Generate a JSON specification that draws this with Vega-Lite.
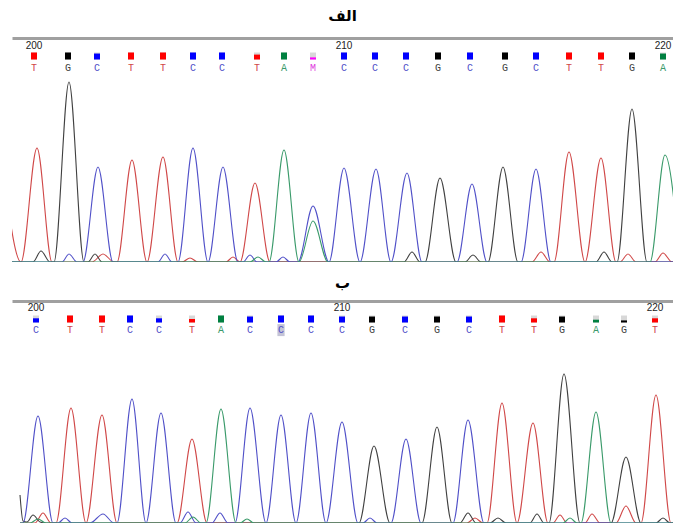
{
  "$schema": "https://vega.github.io/schema/vega-lite/v6.json",
  "padding": {"left": 12, "top": 9, "right": 0, "bottom": 0},
  "background": "white",
  "config": {"view": {"stroke": null}},
  "spacing": 14,
  "datasets": {
    "basesA": [
      {"pos": 200, "x": 34, "base": "T", "q": "1", "sel": false},
      {"pos": 201, "x": 68, "base": "G", "q": "1", "sel": false},
      {"pos": 202, "x": 97, "base": "C", "q": "0.85", "sel": false},
      {"pos": 203, "x": 131, "base": "T", "q": "1", "sel": false},
      {"pos": 204, "x": 163, "base": "T", "q": "1", "sel": false},
      {"pos": 205, "x": 193, "base": "C", "q": "1", "sel": false},
      {"pos": 206, "x": 222, "base": "C", "q": "1", "sel": false},
      {"pos": 207, "x": 257, "base": "T", "q": "0.7", "sel": false},
      {"pos": 208, "x": 284, "base": "A", "q": "1", "sel": false},
      {"pos": 209, "x": 313, "base": "M", "q": "0.3", "sel": false},
      {"pos": 210, "x": 344, "base": "C", "q": "1", "sel": false},
      {"pos": 211, "x": 375, "base": "C", "q": "1", "sel": false},
      {"pos": 212, "x": 406, "base": "C", "q": "1", "sel": false},
      {"pos": 213, "x": 438, "base": "G", "q": "1", "sel": false},
      {"pos": 214, "x": 470, "base": "C", "q": "1", "sel": false},
      {"pos": 215, "x": 505, "base": "G", "q": "1", "sel": false},
      {"pos": 216, "x": 536, "base": "C", "q": "1", "sel": false},
      {"pos": 217, "x": 569, "base": "T", "q": "1", "sel": false},
      {"pos": 218, "x": 601, "base": "T", "q": "1", "sel": false},
      {"pos": 219, "x": 632, "base": "G", "q": "1", "sel": false},
      {"pos": 220, "x": 663, "base": "A", "q": "0.85", "sel": false}
    ],
    "basesB": [
      {"pos": 200, "x": 36, "base": "C", "q": "0.6", "sel": false},
      {"pos": 201, "x": 70, "base": "T", "q": "1", "sel": false},
      {"pos": 202, "x": 102, "base": "T", "q": "1", "sel": false},
      {"pos": 203, "x": 130, "base": "C", "q": "1", "sel": false},
      {"pos": 204, "x": 159, "base": "C", "q": "0.6", "sel": false},
      {"pos": 205, "x": 192, "base": "T", "q": "0.5", "sel": false},
      {"pos": 206, "x": 221, "base": "A", "q": "1", "sel": false},
      {"pos": 207, "x": 250, "base": "C", "q": "0.85", "sel": false},
      {"pos": 208, "x": 281, "base": "C", "q": "1", "sel": true},
      {"pos": 209, "x": 311, "base": "C", "q": "1", "sel": false},
      {"pos": 210, "x": 342, "base": "C", "q": "0.85", "sel": false},
      {"pos": 211, "x": 372, "base": "G", "q": "0.85", "sel": false},
      {"pos": 212, "x": 405, "base": "C", "q": "0.85", "sel": false},
      {"pos": 213, "x": 437, "base": "G", "q": "0.85", "sel": false},
      {"pos": 214, "x": 469, "base": "C", "q": "0.85", "sel": false},
      {"pos": 215, "x": 502, "base": "T", "q": "1", "sel": false},
      {"pos": 216, "x": 534, "base": "T", "q": "0.6", "sel": false},
      {"pos": 217, "x": 562, "base": "G", "q": "0.85", "sel": false},
      {"pos": 218, "x": 596, "base": "A", "q": "0.4", "sel": false},
      {"pos": 219, "x": 624, "base": "G", "q": "0.3", "sel": false},
      {"pos": 220, "x": 655, "base": "T", "q": "0.6", "sel": false}
    ],
    "traceA": [
      {"ch": "T", "x": 6, "h": 70}, {"ch": "T", "x": 21, "h": 0}, {"ch": "T", "x": 37, "h": 114}, {"ch": "T", "x": 52, "h": 0},
      {"ch": "T", "x": 92, "h": 0}, {"ch": "T", "x": 103, "h": 8}, {"ch": "T", "x": 114, "h": 0},
      {"ch": "T", "x": 117, "h": 0}, {"ch": "T", "x": 132, "h": 102}, {"ch": "T", "x": 147, "h": 0}, {"ch": "T", "x": 163, "h": 105}, {"ch": "T", "x": 178, "h": 0},
      {"ch": "T", "x": 182, "h": 0}, {"ch": "T", "x": 190, "h": 4}, {"ch": "T", "x": 198, "h": 0},
      {"ch": "T", "x": 226, "h": 0}, {"ch": "T", "x": 233, "h": 5}, {"ch": "T", "x": 240, "h": 0}, {"ch": "T", "x": 255, "h": 79}, {"ch": "T", "x": 270, "h": 0},
      {"ch": "T", "x": 532, "h": 0}, {"ch": "T", "x": 541, "h": 10}, {"ch": "T", "x": 550, "h": 0},
      {"ch": "T", "x": 554, "h": 0}, {"ch": "T", "x": 569, "h": 110}, {"ch": "T", "x": 585, "h": 0}, {"ch": "T", "x": 601, "h": 104}, {"ch": "T", "x": 616, "h": 0},
      {"ch": "T", "x": 620, "h": 0}, {"ch": "T", "x": 628, "h": 8}, {"ch": "T", "x": 636, "h": 0},
      {"ch": "T", "x": 655, "h": 0}, {"ch": "T", "x": 663, "h": 9}, {"ch": "T", "x": 672, "h": 0}, {"ch": "T", "x": 680, "h": 0},

      {"ch": "G", "x": 12, "h": 0}, {"ch": "G", "x": 33, "h": 0}, {"ch": "G", "x": 41, "h": 11}, {"ch": "G", "x": 50, "h": 0},
      {"ch": "G", "x": 54, "h": 0}, {"ch": "G", "x": 69, "h": 180}, {"ch": "G", "x": 84, "h": 0},
      {"ch": "G", "x": 88, "h": 0}, {"ch": "G", "x": 95, "h": 8}, {"ch": "G", "x": 102, "h": 0},
      {"ch": "G", "x": 404, "h": 0}, {"ch": "G", "x": 412, "h": 10}, {"ch": "G", "x": 420, "h": 0},
      {"ch": "G", "x": 425, "h": 0}, {"ch": "G", "x": 440, "h": 84}, {"ch": "G", "x": 456, "h": 0},
      {"ch": "G", "x": 465, "h": 0}, {"ch": "G", "x": 473, "h": 7}, {"ch": "G", "x": 481, "h": 0},
      {"ch": "G", "x": 488, "h": 0}, {"ch": "G", "x": 503, "h": 95}, {"ch": "G", "x": 518, "h": 0},
      {"ch": "G", "x": 596, "h": 0}, {"ch": "G", "x": 604, "h": 10}, {"ch": "G", "x": 612, "h": 0},
      {"ch": "G", "x": 617, "h": 0}, {"ch": "G", "x": 632, "h": 153}, {"ch": "G", "x": 647, "h": 0}, {"ch": "G", "x": 680, "h": 0},

      {"ch": "C", "x": 12, "h": 0}, {"ch": "C", "x": 62, "h": 0}, {"ch": "C", "x": 69, "h": 8}, {"ch": "C", "x": 77, "h": 0},
      {"ch": "C", "x": 83, "h": 0}, {"ch": "C", "x": 98, "h": 95}, {"ch": "C", "x": 113, "h": 0},
      {"ch": "C", "x": 158, "h": 0}, {"ch": "C", "x": 165, "h": 8}, {"ch": "C", "x": 172, "h": 0},
      {"ch": "C", "x": 178, "h": 0}, {"ch": "C", "x": 193, "h": 114}, {"ch": "C", "x": 208, "h": 0}, {"ch": "C", "x": 223, "h": 95}, {"ch": "C", "x": 238, "h": 0},
      {"ch": "C", "x": 243, "h": 0}, {"ch": "C", "x": 250, "h": 7}, {"ch": "C", "x": 257, "h": 0},
      {"ch": "C", "x": 276, "h": 0}, {"ch": "C", "x": 283, "h": 5}, {"ch": "C", "x": 290, "h": 0},
      {"ch": "C", "x": 298, "h": 0}, {"ch": "C", "x": 313, "h": 56}, {"ch": "C", "x": 329, "h": 0}, {"ch": "C", "x": 344, "h": 94}, {"ch": "C", "x": 360, "h": 0},
      {"ch": "C", "x": 376, "h": 93}, {"ch": "C", "x": 391, "h": 0}, {"ch": "C", "x": 407, "h": 89}, {"ch": "C", "x": 422, "h": 0},
      {"ch": "C", "x": 457, "h": 0}, {"ch": "C", "x": 472, "h": 78}, {"ch": "C", "x": 487, "h": 0},
      {"ch": "C", "x": 521, "h": 0}, {"ch": "C", "x": 536, "h": 93}, {"ch": "C", "x": 551, "h": 0}, {"ch": "C", "x": 680, "h": 0},

      {"ch": "A", "x": 12, "h": 0}, {"ch": "A", "x": 250, "h": 0}, {"ch": "A", "x": 258, "h": 5}, {"ch": "A", "x": 266, "h": 0},
      {"ch": "A", "x": 269, "h": 0}, {"ch": "A", "x": 284, "h": 112}, {"ch": "A", "x": 299, "h": 0}, {"ch": "A", "x": 313, "h": 41}, {"ch": "A", "x": 328, "h": 0},
      {"ch": "A", "x": 650, "h": 0}, {"ch": "A", "x": 665, "h": 107}, {"ch": "A", "x": 680, "h": 0}
    ],
    "traceB": [
      {"ch": "T", "x": 20, "h": 0}, {"ch": "T", "x": 35, "h": 0}, {"ch": "T", "x": 43, "h": 10}, {"ch": "T", "x": 51, "h": 0},
      {"ch": "T", "x": 56, "h": 0}, {"ch": "T", "x": 71, "h": 115}, {"ch": "T", "x": 86, "h": 0}, {"ch": "T", "x": 102, "h": 108}, {"ch": "T", "x": 117, "h": 0},
      {"ch": "T", "x": 177, "h": 0}, {"ch": "T", "x": 192, "h": 84}, {"ch": "T", "x": 207, "h": 0},
      {"ch": "T", "x": 467, "h": 0}, {"ch": "T", "x": 475, "h": 5}, {"ch": "T", "x": 483, "h": 0},
      {"ch": "T", "x": 487, "h": 0}, {"ch": "T", "x": 502, "h": 120}, {"ch": "T", "x": 517, "h": 0}, {"ch": "T", "x": 533, "h": 100}, {"ch": "T", "x": 548, "h": 0},
      {"ch": "T", "x": 553, "h": 0}, {"ch": "T", "x": 560, "h": 8}, {"ch": "T", "x": 567, "h": 0},
      {"ch": "T", "x": 585, "h": 0}, {"ch": "T", "x": 592, "h": 9}, {"ch": "T", "x": 600, "h": 0},
      {"ch": "T", "x": 616, "h": 0}, {"ch": "T", "x": 626, "h": 17}, {"ch": "T", "x": 636, "h": 0},
      {"ch": "T", "x": 641, "h": 0}, {"ch": "T", "x": 656, "h": 128}, {"ch": "T", "x": 671, "h": 0}, {"ch": "T", "x": 680, "h": 0},

      {"ch": "G", "x": 20, "h": 28}, {"ch": "G", "x": 23, "h": 2}, {"ch": "G", "x": 27, "h": 1}, {"ch": "G", "x": 33, "h": 8}, {"ch": "G", "x": 40, "h": 1}, {"ch": "G", "x": 46, "h": 0},
      {"ch": "G", "x": 359, "h": 0}, {"ch": "G", "x": 374, "h": 77}, {"ch": "G", "x": 390, "h": 0},
      {"ch": "G", "x": 422, "h": 0}, {"ch": "G", "x": 437, "h": 96}, {"ch": "G", "x": 452, "h": 0},
      {"ch": "G", "x": 460, "h": 0}, {"ch": "G", "x": 468, "h": 10}, {"ch": "G", "x": 476, "h": 0},
      {"ch": "G", "x": 490, "h": 0}, {"ch": "G", "x": 498, "h": 5}, {"ch": "G", "x": 506, "h": 0},
      {"ch": "G", "x": 530, "h": 0}, {"ch": "G", "x": 537, "h": 9}, {"ch": "G", "x": 544, "h": 0},
      {"ch": "G", "x": 549, "h": 0}, {"ch": "G", "x": 564, "h": 149}, {"ch": "G", "x": 580, "h": 0},
      {"ch": "G", "x": 611, "h": 0}, {"ch": "G", "x": 626, "h": 66}, {"ch": "G", "x": 641, "h": 0},
      {"ch": "G", "x": 656, "h": 0}, {"ch": "G", "x": 663, "h": 5}, {"ch": "G", "x": 670, "h": 0}, {"ch": "G", "x": 680, "h": 0},

      {"ch": "C", "x": 20, "h": 0}, {"ch": "C", "x": 23, "h": 0}, {"ch": "C", "x": 38, "h": 107}, {"ch": "C", "x": 53, "h": 0},
      {"ch": "C", "x": 58, "h": 0}, {"ch": "C", "x": 65, "h": 5}, {"ch": "C", "x": 72, "h": 0},
      {"ch": "C", "x": 90, "h": 0}, {"ch": "C", "x": 103, "h": 9}, {"ch": "C", "x": 114, "h": 0},
      {"ch": "C", "x": 117, "h": 0}, {"ch": "C", "x": 132, "h": 124}, {"ch": "C", "x": 146, "h": 0}, {"ch": "C", "x": 161, "h": 110}, {"ch": "C", "x": 176, "h": 0},
      {"ch": "C", "x": 180, "h": 0}, {"ch": "C", "x": 188, "h": 11}, {"ch": "C", "x": 196, "h": 0},
      {"ch": "C", "x": 212, "h": 0}, {"ch": "C", "x": 220, "h": 10}, {"ch": "C", "x": 228, "h": 0},
      {"ch": "C", "x": 235, "h": 0}, {"ch": "C", "x": 250, "h": 115}, {"ch": "C", "x": 266, "h": 0}, {"ch": "C", "x": 281, "h": 108}, {"ch": "C", "x": 296, "h": 0},
      {"ch": "C", "x": 311, "h": 110}, {"ch": "C", "x": 326, "h": 0}, {"ch": "C", "x": 342, "h": 101}, {"ch": "C", "x": 358, "h": 0},
      {"ch": "C", "x": 363, "h": 0}, {"ch": "C", "x": 370, "h": 5}, {"ch": "C", "x": 377, "h": 0},
      {"ch": "C", "x": 391, "h": 0}, {"ch": "C", "x": 406, "h": 84}, {"ch": "C", "x": 421, "h": 0},
      {"ch": "C", "x": 453, "h": 0}, {"ch": "C", "x": 468, "h": 103}, {"ch": "C", "x": 484, "h": 0}, {"ch": "C", "x": 680, "h": 0},

      {"ch": "A", "x": 20, "h": 0}, {"ch": "A", "x": 30, "h": 0}, {"ch": "A", "x": 38, "h": 4}, {"ch": "A", "x": 46, "h": 0},
      {"ch": "A", "x": 185, "h": 0}, {"ch": "A", "x": 193, "h": 6}, {"ch": "A", "x": 201, "h": 0},
      {"ch": "A", "x": 206, "h": 0}, {"ch": "A", "x": 221, "h": 114}, {"ch": "A", "x": 236, "h": 0},
      {"ch": "A", "x": 240, "h": 0}, {"ch": "A", "x": 247, "h": 4}, {"ch": "A", "x": 254, "h": 0},
      {"ch": "A", "x": 563, "h": 0}, {"ch": "A", "x": 570, "h": 5}, {"ch": "A", "x": 577, "h": 0},
      {"ch": "A", "x": 581, "h": 0}, {"ch": "A", "x": 596, "h": 111}, {"ch": "A", "x": 611, "h": 0}, {"ch": "A", "x": 680, "h": 0}
    ]
  },
  "vconcat": [
    {
      "title": {"text": "الف", "font": "DejaVu Sans", "fontSize": 15, "fontWeight": "bold", "color": "#000000", "anchor": "middle", "offset": 14},
      "spacing": 0,
      "vconcat": [
        {
          "width": 661, "height": 36,
          "data": {"name": "basesA"},
          "encoding": {
            "x": {"field": "x", "type": "quantitative", "scale": {"domain": [12, 673], "nice": false, "zero": false},
                  "axis": {"orient": "top", "domainColor": "#a0a0a0", "domainWidth": 3, "labels": false, "ticks": false, "grid": false, "title": null}}
          },
          "layer": [
            {"mark": {"type": "point", "shape": "M-0.86,-1H0.86V1H-0.86Z", "size": 49, "filled": true, "fill": "#d8d8d8", "strokeWidth": 0, "opacity": 1}},
            {"mark": {"type": "point", "size": 49, "filled": true, "strokeWidth": 0, "opacity": 1},
             "encoding": {
               "fill": {"field": "base", "type": "nominal", "legend": null, "scale": {"domain": ["A", "C", "G", "T", "M"], "range": ["#008040", "#0000ff", "#000000", "#ff0000", "#ff00ff"]}},
               "shape": {"field": "q", "type": "nominal", "legend": null, "scale": {"domain": ["1", "0.85", "0.7", "0.6", "0.5", "0.4", "0.3"], "range": ["M-0.86,-1H0.86V1H-0.86Z", "M-0.86,-0.7H0.86V1H-0.86Z", "M-0.86,-0.4H0.86V1H-0.86Z", "M-0.86,-0.2H0.86V1H-0.86Z", "M-0.86,0H0.86V1H-0.86Z", "M-0.86,0.2H0.86V1H-0.86Z", "M-0.86,0.4H0.86V1H-0.86Z"]}}
             }},
            {"mark": {"type": "text", "font": "Liberation Mono", "fontSize": 10, "baseline": "middle", "align": "center", "dy": 12},
             "encoding": {
               "text": {"field": "base"},
               "color": {"field": "base", "type": "nominal", "legend": null, "scale": {"domain": ["A", "C", "G", "T", "M"], "range": ["#3a9a6a", "#5050c8", "#404040", "#d04848", "#e040e0"]}}
             }},
            {"transform": [{"filter": "datum.pos % 10 == 0"}],
             "mark": {"type": "text", "font": "Liberation Sans", "fontSize": 10, "baseline": "middle", "align": "center", "dy": -10, "fill": "#222222"},
             "encoding": {"text": {"field": "pos"}}}
          ]
        },
        {
          "width": 661, "height": 188,
          "data": {"name": "traceA"},
          "mark": {"type": "line", "interpolate": "monotone", "clip": true, "strokeWidth": 1.1},
          "encoding": {
            "x": {"field": "x", "type": "quantitative", "scale": {"domain": [12, 673], "nice": false, "zero": false}, "axis": null},
            "y": {"field": "h", "type": "quantitative", "scale": {"domain": [0, 188], "nice": false}, "axis": null},
            "color": {"field": "ch", "type": "nominal", "legend": null, "scale": {"domain": ["A", "C", "G", "T"], "range": ["#108a50", "#1a1ac8", "#000000", "#d42020"]}}
          }
        }
      ]
    },
    {
      "title": {"text": "ب", "font": "DejaVu Sans", "fontSize": 15, "fontWeight": "bold", "color": "#000000", "anchor": "middle", "offset": 10},
      "spacing": 0,
      "vconcat": [
        {
          "width": 661, "height": 36,
          "data": {"name": "basesB"},
          "encoding": {
            "x": {"field": "x", "type": "quantitative", "scale": {"domain": [12, 673], "nice": false, "zero": false},
                  "axis": {"orient": "top", "domainColor": "#a0a0a0", "domainWidth": 3, "labels": false, "ticks": false, "grid": false, "title": null}}
          },
          "layer": [
            {"mark": {"type": "point", "shape": "M-0.86,-1H0.86V1H-0.86Z", "size": 49, "filled": true, "fill": "#d8d8d8", "strokeWidth": 0, "opacity": 1}},
            {"mark": {"type": "point", "size": 49, "filled": true, "strokeWidth": 0, "opacity": 1},
             "encoding": {
               "fill": {"field": "base", "type": "nominal", "legend": null, "scale": {"domain": ["A", "C", "G", "T", "M"], "range": ["#008040", "#0000ff", "#000000", "#ff0000", "#ff00ff"]}},
               "shape": {"field": "q", "type": "nominal", "legend": null, "scale": {"domain": ["1", "0.85", "0.7", "0.6", "0.5", "0.4", "0.3"], "range": ["M-0.86,-1H0.86V1H-0.86Z", "M-0.86,-0.7H0.86V1H-0.86Z", "M-0.86,-0.4H0.86V1H-0.86Z", "M-0.86,-0.2H0.86V1H-0.86Z", "M-0.86,0H0.86V1H-0.86Z", "M-0.86,0.2H0.86V1H-0.86Z", "M-0.86,0.4H0.86V1H-0.86Z"]}}
             }},
            {"transform": [{"filter": "datum.sel"}],
             "mark": {"type": "point", "shape": "M-0.6,0.85H0.6V2.85H-0.6Z", "size": 144, "filled": true, "fill": "#c4c4d6", "strokeWidth": 0, "opacity": 1}},
            {"mark": {"type": "text", "font": "Liberation Mono", "fontSize": 10, "baseline": "middle", "align": "center", "dy": 11},
             "encoding": {
               "text": {"field": "base"},
               "color": {"field": "base", "type": "nominal", "legend": null, "scale": {"domain": ["A", "C", "G", "T", "M"], "range": ["#3a9a6a", "#5050c8", "#404040", "#d04848", "#e040e0"]}}
             }},
            {"transform": [{"filter": "datum.pos % 10 == 0"}],
             "mark": {"type": "text", "font": "Liberation Sans", "fontSize": 10, "baseline": "middle", "align": "center", "dy": -11, "fill": "#222222"},
             "encoding": {"text": {"field": "pos"}}}
          ]
        },
        {
          "width": 661, "height": 186,
          "data": {"name": "traceB"},
          "mark": {"type": "line", "interpolate": "monotone", "clip": true, "strokeWidth": 1.1},
          "encoding": {
            "x": {"field": "x", "type": "quantitative", "scale": {"domain": [12, 673], "nice": false, "zero": false}, "axis": null},
            "y": {"field": "h", "type": "quantitative", "scale": {"domain": [0, 186], "nice": false}, "axis": null},
            "color": {"field": "ch", "type": "nominal", "legend": null, "scale": {"domain": ["A", "C", "G", "T"], "range": ["#108a50", "#1a1ac8", "#000000", "#d42020"]}}
          }
        }
      ]
    }
  ]
}
